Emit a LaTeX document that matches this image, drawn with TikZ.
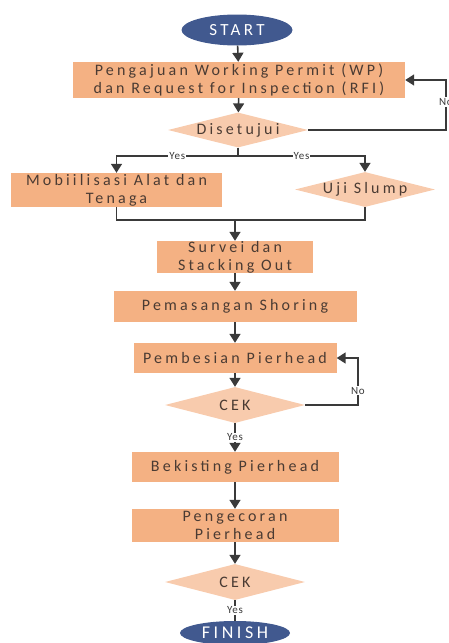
\documentclass[tikz,border=0pt]{standalone}
\usepackage{fontspec}
\setmainfont{Carlito}[LetterSpace=20]
\newfontfamily\lblfont{Carlito}[LetterSpace=6]
\usetikzlibrary{shapes.geometric,arrows.meta,positioning}
\definecolor{procfill}{HTML}{F4B183}
\definecolor{decfill}{HTML}{F8CBAD}
\definecolor{termfill}{HTML}{41598F}
\definecolor{txtbrown}{HTML}{4A3B33}
\definecolor{linegrey}{HTML}{3A3A3A}
\tikzset{
    proc/.style={
           rectangle,
           fill=procfill,
           inner sep=0pt,
           align=center,
           text=txtbrown,
           font=\fontsize{16}{18}\selectfont
           },
    decide/.style={
           diamond, aspect=4,
           fill=decfill,
           inner sep=0pt,
           text=txtbrown,
           font=\fontsize{16}{18}\selectfont
           },
    term/.style={
           ellipse,
           fill=termfill,
           text=white,
           inner sep=0pt
           },
    lbl/.style={
           fill=white,
           inner sep=1pt,
           text=linegrey,
           font=\lblfont\fontsize{11}{12}\selectfont
           },
    arr/.style={->, draw=linegrey, line width=1.6pt},
    link/.style={draw=linegrey, line width=1.6pt}
}

\begin{document}
\begin{tikzpicture}[>={Triangle[width=11pt,length=9pt]}, node distance=50pt, on grid]
\useasboundingbox (0,0) rectangle (448pt,-643pt);
   \node[term, minimum width=111pt, minimum height=31pt, font=\fontsize{17}{18}\selectfont] (start) at (237pt,-30pt) {START};
   \node[proc, minimum width=332pt, minimum height=36pt] (wp) [below=50pt of start, xshift=2pt] {Pengajuan Working Permit (WP)\\dan Request for Inspection (RFI)};
   \node[decide, minimum width=140pt, minimum height=35pt] (dis) [below=50pt of wp, xshift=-1pt] {Disetujui};
   \coordinate[right=207pt of wp] (loopA);
   \coordinate[below=26pt of dis] (split);
   \node[proc, minimum width=211pt, minimum height=34pt] (mob) [below left=60pt and 121.5pt of dis] {Mobiilisasi Alat dan\\Tenaga};
   \node[decide, minimum width=140pt, minimum height=35pt] (uji) [below right=59.5pt and 127pt of dis] {Uji Slump};
   \coordinate[below=90pt of dis, xshift=-3pt] (merge);
   \node[proc, minimum width=156pt, minimum height=32pt] (sur) [below=127pt of dis, xshift=-3pt] {Survei dan\\Stacking Out};
   \node[proc, minimum width=243pt, minimum height=31pt] (pem) [below=49.5pt of sur] {Pemasangan Shoring};
   \node[proc, minimum width=203pt, minimum height=30pt] (bes) [below=51.5pt of pem] {Pembesian Pierhead};
   \node[decide, minimum width=140pt, minimum height=36pt] (cek1) [below=47pt of bes] {CEK};
   \coordinate[right=123pt of bes] (loopB);
   \node[proc, minimum width=207pt, minimum height=30pt] (bek) [below=62pt of cek1] {Bekisting Pierhead};
   \node[proc, minimum width=207pt, minimum height=33pt] (cor) [below=58.5pt of bek] {Pengecoran\\Pierhead};
   \node[decide, minimum width=140pt, minimum height=36pt] (cek2) [below=56.5pt of cor] {CEK};
   \node[term, minimum width=110pt, minimum height=24pt, font=\fontsize{18}{20}\selectfont] (fin) [below=51pt of cek2] {FINISH};

   \draw[arr] (start) -- (wp);
   \draw[arr] (wp) -- (dis);
   \draw[arr] (dis) -| node[lbl, pos=0.78] {No} (loopA) -- (wp);
   \draw[link] (dis) -- (split);
   \draw[arr] (split) -| node[lbl, pos=0.25] {Yes} (mob);
   \draw[arr] (split) -| node[lbl, pos=0.25] {Yes} (uji);
   \draw[link] (mob) |- (merge) -| (uji);
   \draw[arr] (merge) -- (sur);
   \draw[arr] (sur) -- (pem);
   \draw[arr] (pem) -- (bes);
   \draw[arr] (bes) -- (cek1);
   \draw[arr] (cek1) -| node[lbl, pos=0.65] {No} (loopB) -- (bes);
   \draw[arr] (cek1) -- node[lbl] {Yes} (bek);
   \draw[arr] (bek) -- (cor);
   \draw[arr] (cor) -- (cek2);
   \draw[link] (cek2) -- node[lbl] {Yes} (fin);
\end{tikzpicture}
\end{document}
